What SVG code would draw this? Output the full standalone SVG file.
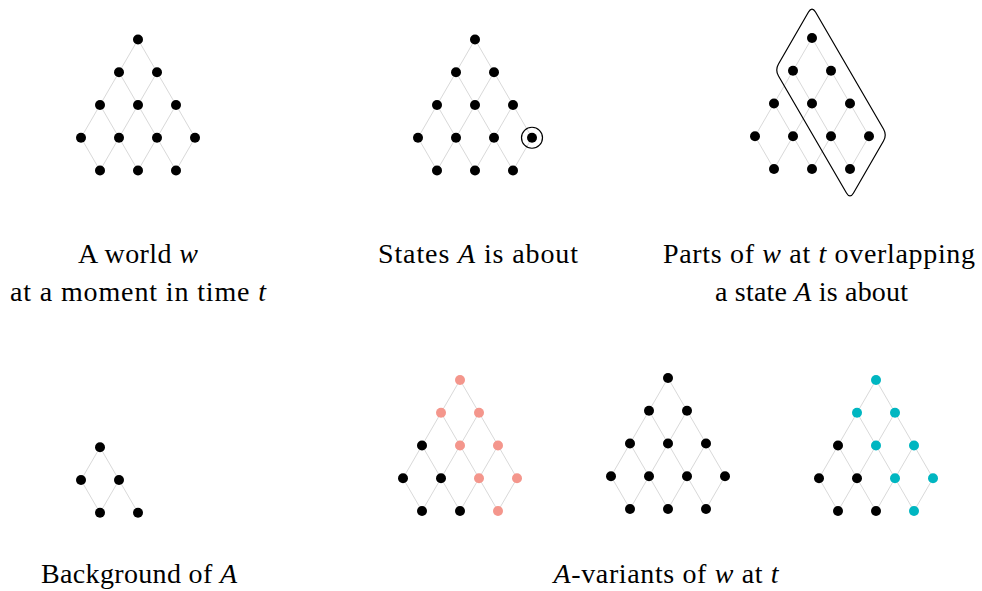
<svg xmlns="http://www.w3.org/2000/svg" xmlns:xlink="http://www.w3.org/1999/xlink" width="982" height="591" viewBox="0 0 982 591">
<style>
.edge{fill:none;stroke:#d9d9d9;stroke-width:1}
.k{fill:#000}
.p{fill:#f4968c}
.c{fill:#00b6c1}
.lbl{font-family:'Liberation Serif','Times New Roman',serif;font-size:28px;fill:#000;text-anchor:middle}
.it{font-style:italic}
</style>
<defs>
<path id="lat" class="edge" d="M0,0 L57,98.25 M-19,32.75 L38,131 M-38,65.5 L0,131 M-57,98.25 L-38,131 M0,0 L-57,98.25 M19,32.75 L-38,131 M38,65.5 L0,131 M57,98.25 L38,131"/>
<path id="bg" class="edge" d="M-19,32.75 L0,0 L19,32.75 L38,65.5 M19,32.75 L0,65.5 L-19,32.75"/>
<g id="dotsK">
<circle class="k" cx="0" cy="0" r="5"/>
<circle class="k" cx="-19" cy="32.75" r="5"/><circle class="k" cx="19" cy="32.75" r="5"/>
<circle class="k" cx="-38" cy="65.5" r="5"/><circle class="k" cx="0" cy="65.5" r="5"/><circle class="k" cx="38" cy="65.5" r="5"/>
<circle class="k" cx="-57" cy="98.25" r="5"/><circle class="k" cx="-19" cy="98.25" r="5"/><circle class="k" cx="19" cy="98.25" r="5"/><circle class="k" cx="57" cy="98.25" r="5"/>
<circle class="k" cx="-38" cy="131" r="5"/><circle class="k" cx="0" cy="131" r="5"/><circle class="k" cx="38" cy="131" r="5"/>
</g>
</defs>

<g id="connectors">
<use xlink:href="#lat" href="#lat" transform="translate(138,39.5)"/>
<use xlink:href="#lat" href="#lat" transform="translate(475,39.5)"/>
<use xlink:href="#lat" href="#lat" transform="translate(812,38)"/>
<use xlink:href="#bg" href="#bg" transform="translate(100,447.3)"/>
<use xlink:href="#lat" href="#lat" transform="translate(460,380)"/>
<use xlink:href="#lat" href="#lat" transform="translate(668,378)"/>
<use xlink:href="#lat" href="#lat" transform="translate(876,380)"/>
</g>

<g id="world">
<use xlink:href="#dotsK" href="#dotsK" transform="translate(138,39.5)"/>
<text class="lbl" x="138" y="263" textLength="120">A world <tspan class="it">w</tspan></text>
<text class="lbl" x="138" y="301" textLength="256">at a moment in time <tspan class="it">t</tspan></text>
</g>

<g id="states">
<use xlink:href="#dotsK" href="#dotsK" transform="translate(475,39.5)"/>
<circle cx="532" cy="137.75" r="10.5" fill="none" stroke="#000" stroke-width="1.2"/>
<text class="lbl" x="478" y="263" textLength="200">States <tspan class="it">A</tspan> is about</text>
</g>

<g id="overlap">
<use xlink:href="#dotsK" href="#dotsK" transform="translate(812,38)"/>
<path d="M815.5,12.06 L883.48,128.94 Q887,135 883.5,141.06 L853.5,192.94 Q850,199 846.48,192.94 L778.52,76.06 Q775,70 778.5,63.94 L808.5,12.06 Q812,6 815.5,12.06 Z" fill="none" stroke="#000" stroke-width="1.2"/>
<text class="lbl" x="819" y="263" textLength="312">Parts of <tspan class="it">w</tspan> at <tspan class="it">t</tspan> overlapping</text>
<text class="lbl" x="811.5" y="301" textLength="193">a state <tspan class="it">A</tspan> is about</text>
</g>

<g id="background">
<circle class="k" cx="100" cy="447.3" r="5"/>
<circle class="k" cx="81" cy="480.05" r="5"/><circle class="k" cx="119" cy="480.05" r="5"/>
<circle class="k" cx="100" cy="512.8" r="5"/><circle class="k" cx="138" cy="512.8" r="5"/>
<text class="lbl" x="139" y="583" textLength="196">Background of <tspan class="it">A</tspan></text>
</g>

<g id="variant-pink" transform="translate(460,380)">
<circle class="p" cx="0" cy="0" r="5"/>
<circle class="p" cx="-19" cy="32.75" r="5"/><circle class="p" cx="19" cy="32.75" r="5"/>
<circle class="k" cx="-38" cy="65.5" r="5"/><circle class="p" cx="0" cy="65.5" r="5"/><circle class="p" cx="38" cy="65.5" r="5"/>
<circle class="k" cx="-57" cy="98.25" r="5"/><circle class="k" cx="-19" cy="98.25" r="5"/><circle class="p" cx="19" cy="98.25" r="5"/><circle class="p" cx="57" cy="98.25" r="5"/>
<circle class="k" cx="-38" cy="131" r="5"/><circle class="k" cx="0" cy="131" r="5"/><circle class="p" cx="38" cy="131" r="5"/>
</g>

<g id="variant-black">
<use xlink:href="#dotsK" href="#dotsK" transform="translate(668,378)"/>
</g>

<g id="variant-cyan" transform="translate(876,380)">
<circle class="c" cx="0" cy="0" r="5"/>
<circle class="c" cx="-19" cy="32.75" r="5"/><circle class="c" cx="19" cy="32.75" r="5"/>
<circle class="k" cx="-38" cy="65.5" r="5"/><circle class="c" cx="0" cy="65.5" r="5"/><circle class="c" cx="38" cy="65.5" r="5"/>
<circle class="k" cx="-57" cy="98.25" r="5"/><circle class="k" cx="-19" cy="98.25" r="5"/><circle class="c" cx="19" cy="98.25" r="5"/><circle class="c" cx="57" cy="98.25" r="5"/>
<circle class="k" cx="-38" cy="131" r="5"/><circle class="k" cx="0" cy="131" r="5"/><circle class="c" cx="38" cy="131" r="5"/>
</g>

<g id="variants-label">
<text class="lbl" x="666" y="583" textLength="225"><tspan class="it">A</tspan>-variants of <tspan class="it">w</tspan> at <tspan class="it">t</tspan></text>
</g>
</svg>
